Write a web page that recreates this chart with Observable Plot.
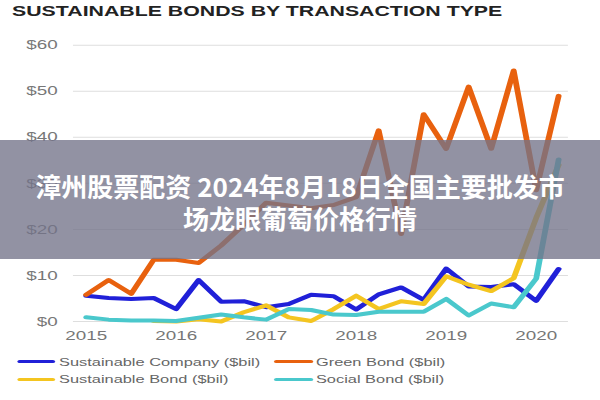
<!DOCTYPE html>
<html><head><meta charset="utf-8">
<script src="https://cdn.jsdelivr.net/npm/d3@7"></script>
<script src="https://cdn.jsdelivr.net/npm/@observablehq/plot@0.6"></script>
<style>
body{margin:0;background:#fff;width:600px;height:400px;overflow:hidden;}
#wrap{position:absolute;left:0;top:0;width:414px;height:400px;transform:scaleX(1.45);transform-origin:0 0;font-family:"Liberation Sans",Arial,sans-serif;}
#title{position:absolute;left:8.3px;top:4.3px;font-size:14.7px;font-weight:bold;color:#222;line-height:14.7px;white-space:nowrap;}
#chart{position:absolute;left:0;top:28px;}
.leg{position:absolute;font-size:11.3px;color:#666;line-height:12px;white-space:nowrap;}
.sw{position:absolute;height:3.5px;border-radius:2px;}
#banner{position:absolute;left:0;top:140px;width:600px;height:119px;box-sizing:border-box;padding-top:30px;background:rgba(115,115,137,0.78);color:#fff;font-family:"Noto Sans CJK SC",sans-serif;font-weight:bold;font-size:26px;text-align:center;line-height:32px;white-space:nowrap;}
</style>
</head><body>
<div id="wrap">
  <div id="title">SUSTAINABLE BONDS BY TRANSACTION TYPE</div>
  <div id="chart"></div>
  <div id="legend"></div>
</div>
<div id="banner">漳州股票配资 2024年8月18日全国主要批发市<br>场龙眼葡萄价格行情</div>
<script>
// Quarterly periods (decimal year)
const periods = [2015, 2015.25, 2015.5, 2015.75, 2016, 2016.25, 2016.5, 2016.75,
  2017, 2017.25, 2017.5, 2017.75, 2018, 2018.25, 2018.5, 2018.75,
  2019, 2019.25, 2019.5, 2019.75, 2020, 2020.25];
const seriesNames = ["Sustainable Company ($bil)", "Green Bond ($bil)", "Sustainable Bond ($bil)", "Social Bond ($bil)"];
const seriesColors = ["#2020d8", "#e8610e", "#f4c520", "#4ac8cc"];
const sustainableCompany = [5.6, 5.1, 4.9, 5.1, 2.7, 9.0, 4.3, 4.4, 3.1, 3.8, 5.8, 5.5, 2.6, 5.9, 7.4, 4.7, 11.5, 7.6, 7.5, 8.1, 4.5, 11.4];
const greenBond = [5.8, 9.0, 6.0, 13.4, 13.4, 12.7, 16.5, 21.0, 25.8, 25.2, 24.6, 25.3, 27.0, 41.5, 19.0, 45.0, 37.5, 51.0, 37.5, 54.5, 28.5, 49.0];
const sustainableBond = [null, null, null, 0.1, 0.0, 0.5, 0.0, 2.0, 3.5, 0.9, 0.1, 2.7, 5.6, 2.7, 4.4, 3.8, 9.8, 8.0, 6.6, 9.4, 22.5, 34.0];
const socialBond = [0.9, 0.4, 0.2, 0.2, 0.1, 0.8, 1.5, 0.9, 0.4, 2.7, 2.5, 1.5, 1.4, 2.1, 2.1, 2.1, 4.9, 1.3, 3.9, 3.1, 9.3, 35.2];
const xTicks = [2015, 2016, 2017, 2018, 2019, 2020];
const yTicks = [0, 10, 20, 30, 40, 50, 60];

const allValues = [sustainableCompany, greenBond, sustainableBond, socialBond];
const rows = s => periods.map((p, i) => ({period: p, value: allValues[s][i]})).filter(d => d.value != null);

const S = 1.45;
const W = 600 / S;
const lineOpts = (s) => ({x: "period", y: "value", stroke: seriesColors[s], strokeWidth: 4, strokeLinejoin: "round", strokeLinecap: "round"});

const chart = Plot.plot({
  width: W,
  height: 324,
  marginLeft: 50.3,
  marginRight: 22.1,
  marginTop: 16.7,
  marginBottom: 31,
  style: {fontFamily: "'Liberation Sans', Arial, sans-serif", fontSize: "13px", color: "#777", background: "transparent", overflow: "visible"},
  x: {domain: [2014.861, 2020.361], ticks: xTicks, tickFormat: d => String(d), tickSize: 0, tickPadding: 9, label: null},
  y: {domain: [0, 60], ticks: yTicks, tickFormat: d => "$" + d, tickSize: 0, tickPadding: 11, label: null},
  marks: [
    Plot.ruleY(yTicks, {stroke: "#dedede", strokeWidth: 1}),
    Plot.line(rows(0), lineOpts(0)),
    Plot.line(rows(1), lineOpts(1)),
    Plot.line(rows(2), lineOpts(2)),
    Plot.line(rows(3), lineOpts(3))
  ]
});
document.getElementById("chart").appendChild(chart);

// Legend (two rows, two columns)
const legend = document.getElementById("legend");
const pos = [
  {sw: 12.4, sww: 25.5, tx: 40.7, cy: 361.7},
  {sw: 189, sww: 27, tx: 217.9, cy: 361.7},
  {sw: 12.4, sww: 25.5, tx: 40.7, cy: 379.3},
  {sw: 189, sww: 27, tx: 217.9, cy: 379.3}
];
seriesNames.forEach((name, i) => {
  const p = pos[i];
  const sw = document.createElement("div");
  sw.className = "sw";
  sw.style.left = p.sw + "px";
  sw.style.width = p.sww + "px";
  sw.style.top = (p.cy - 1.75) + "px";
  sw.style.background = seriesColors[i];
  legend.appendChild(sw);
  const t = document.createElement("div");
  t.className = "leg";
  t.style.left = p.tx + "px";
  t.style.top = (p.cy - 6) + "px";
  t.textContent = name;
  legend.appendChild(t);
});
</script>
</body></html>
